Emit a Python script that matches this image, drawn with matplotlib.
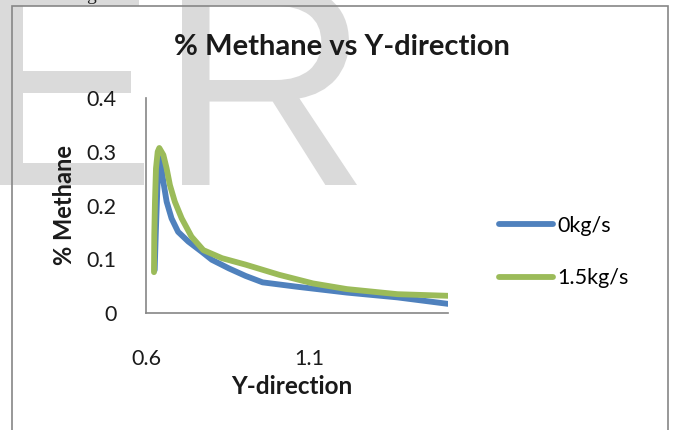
import matplotlib
matplotlib.use("Agg")
import matplotlib.pyplot as plt
import matplotlib.transforms as mtransforms
from matplotlib.patches import Rectangle, PathPatch
from matplotlib.textpath import TextPath
from matplotlib.font_manager import FontProperties

# values
x_blue = [0.6265, 0.630, 0.634, 0.6375, 0.6396, 0.645, 0.653, 0.663, 0.678,
          0.698, 0.729, 0.770, 0.801, 0.853, 0.904, 0.956, 1.059, 1.213,
          1.368, 1.522]
y_blue = [0.080, 0.150, 0.220, 0.275, 0.294, 0.280, 0.244, 0.207, 0.176,
          0.151, 0.133, 0.114, 0.099, 0.083, 0.069, 0.057, 0.049, 0.038,
          0.029, 0.017]

x_green = [0.6244, 0.6253, 0.6274, 0.6305, 0.6357, 0.6406, 0.653, 0.663,
           0.673, 0.688, 0.709, 0.739, 0.775, 0.832, 0.904, 1.007, 1.110,
           1.213, 1.368, 1.522]
y_green = [0.076, 0.145, 0.207, 0.269, 0.300, 0.307, 0.294, 0.269, 0.238,
           0.207, 0.176, 0.142, 0.117, 0.102, 0.090, 0.071, 0.055, 0.0445,
           0.035, 0.032]

labels = ["0kg/s", "1.5kg/s"]
xticks = [0.6, 1.1]
yticks = [0, 0.1, 0.2, 0.3, 0.4]

W, H = 673, 430

plt.rcParams['font.family'] = ['Lato', 'DejaVu Sans']

fig = plt.figure(figsize=(W/100, H/100), dpi=100)
ax = fig.add_axes([146/W, 1 - 313/H, (448-146)/W, (313-98)/H])
ax.set_facecolor('none')


def watermark(letter, left, right, top, bottom):
    # big grey letter fitted into a pixel box, behind everything
    tp = TextPath((0, 0), letter, size=100,
                  prop=FontProperties(family='Liberation Sans'))
    ext = tp.get_extents()
    sx = (right - left) / ext.width / W
    sy = (bottom - top) / ext.height / H
    tr = (mtransforms.Affine2D().translate(-ext.x0, -ext.y0).scale(sx, sy)
          .translate(left/W, 1 - bottom/H) + fig.transFigure)
    fig.patches.append(PathPatch(tp, transform=tr, facecolor='#dadada',
                                 edgecolor='none', zorder=-1))


watermark("E", -2, 144, -16, 185)
watermark("R", 182, 357, -16, 185)

# cut off letter from the text above
fig.text(86/W, 1.0, "g", fontsize=14, family='Liberation Serif',
         color='#222222', ha='left', va='baseline')

# chart border
fig.patches.append(Rectangle((12/W, -0.1), (668-12)/W, 1.1 - 6/H,
                             transform=fig.transFigure, fill=False,
                             edgecolor='#868686', lw=1.2, zorder=1))

ax.plot(x_blue, y_blue, color='#4f81bd', lw=4.2, label=labels[0],
        solid_capstyle='round', solid_joinstyle='round')
ax.plot(x_green, y_green, color='#9bbb59', lw=4.2, label=labels[1],
        solid_capstyle='round', solid_joinstyle='round')

ax.set_xlim(0.6, 1.522)
ax.set_ylim(0, 0.4)
ax.set_xticks(xticks)
ax.set_xticklabels(["0.6", "1.1"])
ax.set_yticks(yticks)
ax.set_yticklabels(["0", "0.1", "0.2", "0.3", "0.4"])
ax.tick_params(axis='both', length=0, labelsize=15.5, colors='#1a1a1a')
ax.tick_params(axis='x', pad=26)
ax.tick_params(axis='y', pad=21)

for s in ['top', 'right']:
    ax.spines[s].set_visible(False)
for s in ['left', 'bottom']:
    ax.spines[s].set_color('#868686')
    ax.spines[s].set_linewidth(1.2)

fig.text(342/W, 1 - 55/H, "% Methane vs Y-direction", fontsize=21,
         fontweight='bold', ha='center', va='baseline', color='#1a1a1a')
fig.text(64/W, 1 - 205/H, "% Methane", fontsize=17, fontweight='bold',
         rotation=90, ha='center', va='center', color='#1a1a1a')
fig.text(292/W, 1 - 387/H, "Y-direction", fontsize=17.5, fontweight='bold',
         ha='center', va='center', color='#1a1a1a')

fig.legend(loc='center left', bbox_to_anchor=(499/W, 1 - 252/H),
           frameon=False, fontsize=15.5, handlelength=2.5, handletextpad=0.2,
           labelspacing=1.53, borderpad=0, borderaxespad=0)

fig.savefig("out.png", dpi=100)
